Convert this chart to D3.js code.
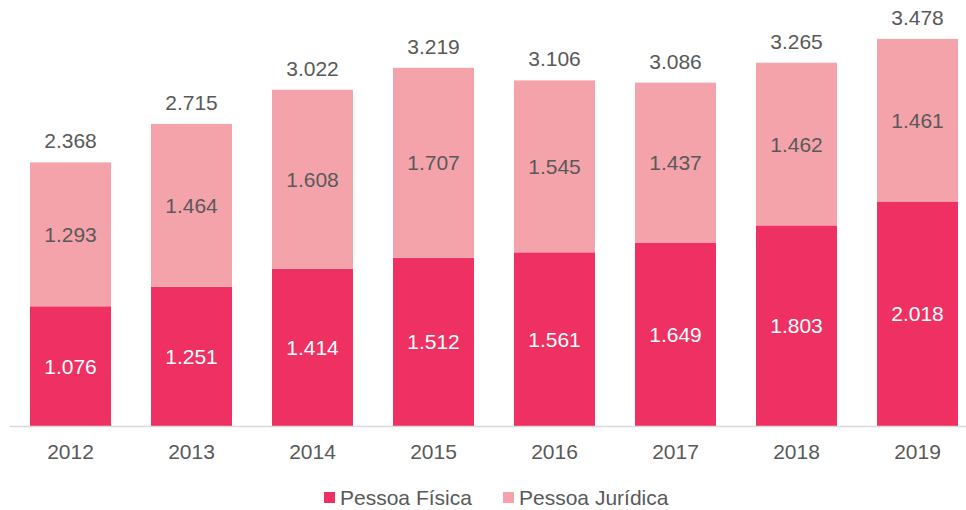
<!DOCTYPE html>
<html>
<head>
<meta charset="utf-8">
<script src="https://cdn.jsdelivr.net/npm/d3@7"></script>
<style>
  html, body { margin: 0; padding: 0; background: #fff; }
  svg { display: block; font-family: "Liberation Sans", Arial, sans-serif; }
</style>
</head>
<body>
<svg id="chart" width="966" height="510"></svg>
<script>
const years = ["2012", "2013", "2014", "2015", "2016", "2017", "2018", "2019"];
const pessoaFisica = [1076, 1251, 1414, 1512, 1561, 1649, 1803, 2018];
const pessoaJuridica = [1293, 1464, 1608, 1707, 1545, 1437, 1462, 1461];
const totals = [2368, 2715, 3022, 3219, 3106, 3086, 3265, 3478];
const seriesNames = ["Pessoa Física", "Pessoa Jurídica"];
const colors = ["#EE3162", "#F5A3AB"];

const svg = d3.select("#chart");
const baseY = 426;
const step = 121;
const x0 = 10;

const x = d3.scaleBand()
  .domain(years)
  .range([x0, x0 + step * years.length])
  .paddingInner(40 / 121)
  .paddingOuter(20 / 121);

const y = d3.scaleLinear()
  .domain([0, 3478])
  .range([baseY, 39]);

const fmt = v => d3.format(",.0f")(v).replace(/,/g, ".");

const rows = years.map((yr, i) => ({ year: yr, pf: pessoaFisica[i], pj: pessoaJuridica[i], total: totals[i] }));
const stack = d3.stack().keys(["pf", "pj"])(rows);

// stacked segments with value labels centred in each
stack.forEach((layer, li) => {
  const g = svg.append("g");
  g.selectAll("rect")
    .data(layer)
    .join("rect")
    .attr("x", d => x(d.data.year))
    .attr("width", x.bandwidth())
    .attr("y", d => y(d[1]))
    .attr("height", d => y(d[0]) - y(d[1]))
    .attr("fill", colors[li]);
  g.selectAll("text")
    .data(layer)
    .join("text")
    .attr("x", d => x(d.data.year) + x.bandwidth() / 2)
    .attr("y", d => (y(d[0]) + y(d[1])) / 2)
    .attr("dy", "0.36em")
    .attr("text-anchor", "middle")
    .attr("font-size", 21)
    .attr("fill", li === 0 ? "#ffffff" : "#595959")
    .text(d => fmt(d.data[layer.key]));
});

// totals above bars
svg.append("g").selectAll("text")
  .data(rows)
  .join("text")
  .attr("x", d => x(d.year) + x.bandwidth() / 2)
  .attr("y", d => y(d.pf + d.pj) - 14)
  .attr("text-anchor", "middle")
  .attr("font-size", 21)
  .attr("fill", "#595959")
  .text(d => fmt(d.total));

// category axis
const axis = svg.append("g")
  .attr("transform", `translate(0,${baseY})`)
  .call(d3.axisBottom(x).tickSize(0).tickPadding(18));
axis.select(".domain").attr("stroke", "#d9d9d9").attr("stroke-width", 1.5)
  .attr("d", `M${x0},0.5H966`);
axis.selectAll("text")
  .attr("font-size", 21)
  .attr("font-family", "Liberation Sans, Arial, sans-serif")
  .attr("fill", "#595959");

// legend
const legend = svg.append("g").attr("transform", "translate(0,497.5)");
const legendX = [324, 503];
seriesNames.forEach((name, i) => {
  legend.append("rect")
    .attr("x", legendX[i])
    .attr("y", -5.5)
    .attr("width", 11)
    .attr("height", 11)
    .attr("fill", colors[i]);
  legend.append("text")
    .attr("x", legendX[i] + 16)
    .attr("y", 0)
    .attr("dy", "0.36em")
    .attr("font-size", 21)
    .attr("fill", "#595959")
    .text(name);
});
</script>
</body>
</html>
